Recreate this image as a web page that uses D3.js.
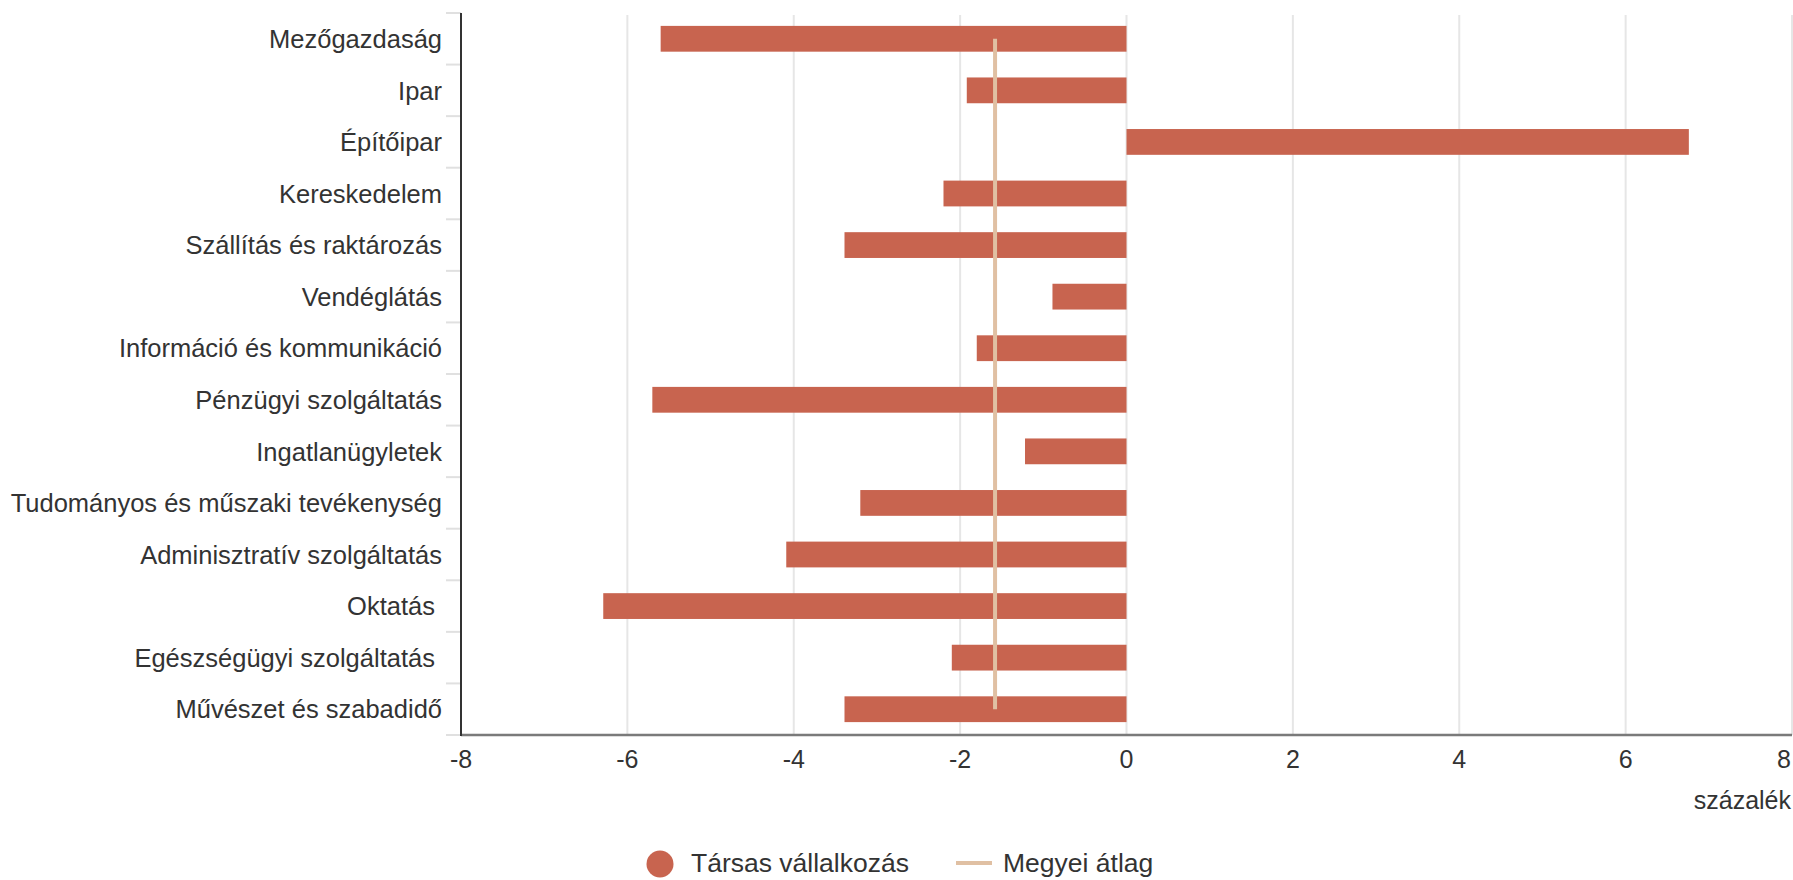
<!DOCTYPE html>
<html>
<head>
<meta charset="utf-8">
<script src="https://cdn.jsdelivr.net/npm/d3@7"></script>
<style>
  html, body { margin: 0; padding: 0; background: #fff; }
  svg { display: block; }
  text { font-family: "Liberation Sans", Arial, sans-serif; fill: #333; white-space: pre; }
</style>
</head>
<body>
<svg id="chart" width="1793" height="880"></svg>
<script>
const categories = [
  "Mezőgazdaság", "Ipar", "Építőipar", "Kereskedelem", "Szállítás és raktározás",
  "Vendéglátás", "Információ és kommunikáció", "Pénzügyi szolgáltatás", "Ingatlanügyletek",
  "Tudományos és műszaki tevékenység", "Adminisztratív szolgáltatás", "Oktatás ",
  "Egészségügyi szolgáltatás ", "Művészet és szabadidő"
];
const values = [-5.6, -1.92, 6.76, -2.2, -3.39, -0.89, -1.8, -5.7, -1.22, -3.2, -4.09, -6.29, -2.1, -3.39];
const averageValue = -1.58;
const xTicks = [-8, -6, -4, -2, 0, 2, 4, 6, 8];
const seriesNames = ["Társas vállalkozás", "Megyei átlag"];
const axisTitle = "százalék";

const barColor = "#c8644f";
const avgColor = "#e0c0a3";
const labelSize = 25.5;
const tickSize = 25;
const legendSize = 26.5;

const svg = d3.select("#chart");
const plotLeft = 461, plotRight = 1792, plotTop = 13, plotBottom = 735;

const x = d3.scaleLinear().domain([-8, 8]).range([plotLeft, plotRight]);
const y = d3.scaleBand().domain(categories).range([plotTop, plotBottom]).paddingInner(0.5).paddingOuter(0.25);
const yb = d3.scaleBand().domain(categories).range([plotTop, plotBottom]);

// gridlines
svg.append("g").selectAll("line").data(xTicks).join("line")
  .attr("x1", d => x(d)).attr("x2", d => x(d))
  .attr("y1", plotTop + 2).attr("y2", plotBottom)
  .attr("stroke", "#e6e6e6").attr("stroke-width", 2);

// category tick marks at band boundaries
const boundaries = categories.map(c => yb(c)).concat([plotBottom]);
svg.append("g").selectAll("line").data(boundaries).join("line")
  .attr("x1", plotLeft - 15).attr("x2", plotLeft)
  .attr("y1", d => d).attr("y2", d => d)
  .attr("stroke", "#e0e0e0").attr("stroke-width", 2);

// bars
svg.append("g").selectAll("rect").data(values).join("rect")
  .attr("x", d => x(Math.min(0, d)))
  .attr("width", d => Math.abs(x(d) - x(0)))
  .attr("y", (d, i) => y(categories[i]))
  .attr("height", y.bandwidth())
  .attr("fill", barColor);

// average line
svg.append("line")
  .attr("x1", x(averageValue)).attr("x2", x(averageValue))
  .attr("y1", yb(categories[0]) + yb.bandwidth() / 2)
  .attr("y2", yb(categories[categories.length - 1]) + yb.bandwidth() / 2)
  .attr("stroke", avgColor).attr("stroke-width", 4);

// axes lines
svg.append("line")
  .attr("x1", plotLeft).attr("x2", plotRight).attr("y1", plotBottom).attr("y2", plotBottom)
  .attr("stroke", "#7a7a7a").attr("stroke-width", 2.5);
svg.append("line")
  .attr("x1", plotLeft).attr("x2", plotLeft).attr("y1", plotTop).attr("y2", plotBottom + 1)
  .attr("stroke", "#333").attr("stroke-width", 2);

// category labels
svg.append("g").selectAll("text").data(categories).join("text")
  .attr("x", plotLeft - 19)
  .attr("y", d => yb(d) + yb.bandwidth() / 2)
  .attr("dy", "0.36em")
  .attr("text-anchor", "end")
  .attr("font-size", labelSize)
  .text(d => d);

// x tick labels (last one kept inside the picture)
svg.append("g").selectAll("text").data(xTicks).join("text")
  .attr("x", (d, i) => i === xTicks.length - 1 ? plotRight - 1 : x(d))
  .attr("y", 768)
  .attr("text-anchor", (d, i) => i === xTicks.length - 1 ? "end" : "middle")
  .attr("font-size", tickSize)
  .text(d => String(d));

// axis title
svg.append("text")
  .attr("x", plotRight - 1).attr("y", 809)
  .attr("text-anchor", "end")
  .attr("font-size", tickSize)
  .text(axisTitle);

// legend
const lg = svg.append("g");
lg.append("circle").attr("cx", 660).attr("cy", 864).attr("r", 13.5).attr("fill", barColor);
lg.append("text").attr("x", 691).attr("y", 872).attr("font-size", legendSize).text(seriesNames[0]);
lg.append("line").attr("x1", 956).attr("x2", 992).attr("y1", 863).attr("y2", 863)
  .attr("stroke", avgColor).attr("stroke-width", 4);
lg.append("text").attr("x", 1003).attr("y", 872).attr("font-size", legendSize).text(seriesNames[1]);
</script>
</body>
</html>
